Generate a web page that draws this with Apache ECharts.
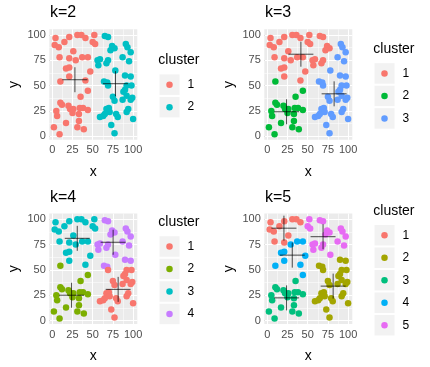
<!DOCTYPE html>
<html><head><meta charset="utf-8">
<script src="https://cdn.jsdelivr.net/npm/echarts@6/dist/echarts.min.js"></script>
<style>html,body{margin:0;padding:0;background:#fff}#c{width:430px;height:367px}</style>
</head><body><div id="c"></div>
<script>
// point coordinates (same data in every facet)
const xs = [4,21,31,36,41,15,3,8,9,21,26,
            29,37,44,17,21,21,10,41,47,44,
            52,50,53,65,69,74,77,72,56,59,57,67,69,91,93,97,87,95,78,
            64,68,90,97,69,92,98,90,88,92,87,99,97,77,75,94,92,79,81,59,63,67,70,71,65,73,77,100,
            10,12,20,22,26,25,34,38,44,5,6,33,17,33,31,39,2,9,35];
const ys = [97,98,100,100,97,93,90,88,78,77,84,
            75,78,78,67,68,59,54,55,64,45,
            100,93,91,99,98,89,87,85,75,76,70,72,75,91,88,83,78,74,65,
            54,53,60,59,50,50,50,46,44,40,36,38,36,35,39,27,24,22,19,19,20,27,28,24,22,11,3,17,
            33,31,30,27,27,23,28,28,26,25,20,22,13,15,9,7,9,2,39];
// cluster labels per k
const clusterK2 = [1,1,1,1,1,1,1,1,1,1,1,
                   1,1,1,1,1,1,1,1,1,1,
                   1,1,1,2,2,2,2,2,2,2,2,2,2,2,2,2,2,2,2,
                   2,2,2,2,2,2,2,2,2,2,2,2,2,2,2,2,2,2,2,2,2,2,2,2,2,2,2,2,
                   1,1,1,1,1,1,1,1,1,1,1,1,1,1,1,1,1,1,1];
const clusterK3 = [1,1,1,1,1,1,1,1,1,1,1,
                   1,1,1,1,1,1,2,1,1,2,
                   1,1,1,1,1,1,1,1,1,1,1,1,1,3,3,3,3,3,3,
                   3,3,3,3,3,3,3,3,3,3,3,3,3,3,3,3,3,3,3,3,3,3,3,3,3,3,3,3,
                   2,2,2,2,2,2,2,2,2,2,2,2,2,2,2,2,2,2,2];
const clusterK4 = [3,3,3,3,3,3,3,3,3,3,3,
                   3,3,3,3,3,3,2,3,3,2,
                   3,3,3,4,4,4,4,4,4,4,4,4,4,4,4,4,4,4,4,
                   4,4,4,4,1,1,1,1,1,1,1,1,1,1,1,1,1,1,1,1,1,1,1,1,1,1,1,1,
                   2,2,2,2,2,2,2,2,2,2,2,2,2,2,2,2,2,2,2];
const clusterK5 = [1,1,1,1,1,1,1,1,1,1,1,
                   4,4,4,4,4,4,4,4,4,4,
                   5,5,5,5,5,5,5,5,5,5,5,5,5,5,5,5,5,5,5,
                   2,2,2,2,2,2,2,2,2,2,2,2,2,2,2,2,2,2,2,2,2,2,2,2,2,2,2,2,
                   3,3,3,3,3,3,3,3,3,3,3,3,3,3,3,3,3,3,3];
// cluster centres (crosses)
const centersK2 = [[28.0,55.8],[78.2,51.9]];
const centersK3 = [[41.6,81.0],[23.9,24.2],[82.7,41.9]];
const centersK4 = [[81.5,30.8],[23.9,25.0],[30.9,81.2],[75.3,77.3]];
const centersK5 = [[20.6,91.2],[81.5,34.0],[23.9,22.4],[30.9,64.6],[69.0,82.8]];
const tickValues = [0,25,50,75,100];
const minorValues = [12.5,37.5,62.5,87.5];
const panelTitles = ['k=2','k=3','k=4','k=5'];
const legendTitle = 'cluster';

const palettes = [
  ['#F8766D','#00BFC4'],
  ['#F8766D','#00BA38','#619CFF'],
  ['#F8766D','#7CAE00','#00BFC4','#C77CFF'],
  ['#F8766D','#A3A500','#00BF7D','#00B0F6','#E76BF3']
];
const labelsAll = [clusterK2, clusterK3, clusterK4, clusterK5];
const centersAll = [centersK2, centersK3, centersK4, centersK5];

const FONT = 'Liberation Sans, Arial, sans-serif';
const panels = [
  {ox:0, oy:0},{ox:215, oy:0},{ox:0, oy:184.3},{ox:215, oy:184.3}
];
const GL = 49.3, GT = 29.3, GW = 88, GH = 110.5;

const grid=[], xAxis=[], yAxis=[], series=[], title=[], graphic=[];
panels.forEach((p, i) => {
  grid.push({left:GL+p.ox, top:GT+p.oy, width:GW, height:GH, show:true,
    backgroundColor:'#EBEBEB', borderWidth:0, containLabel:false});
  xAxis.push({type:'value', gridIndex:i, min:-3.7, max:105.2,
    axisLine:{show:false}, splitLine:{show:false},
    axisTick:{show:true, customValues:tickValues, length:2.75, lineStyle:{color:'#333333', width:1}},
    axisLabel:{customValues:tickValues, color:'#4D4D4D', fontSize:11, fontFamily:FONT, margin:5},
    name:'x', nameLocation:'middle', nameGap:25,
    nameTextStyle:{color:'#000', fontSize:14, fontFamily:FONT}});
  yAxis.push({type:'value', gridIndex:i, min:-3.5, max:105.6,
    axisLine:{show:false}, splitLine:{show:false},
    axisTick:{show:true, customValues:tickValues, length:2.75, lineStyle:{color:'#333333', width:1}},
    axisLabel:{customValues:tickValues, color:'#4D4D4D', fontSize:11, fontFamily:FONT, margin:3.5},
    name:'y', nameLocation:'middle', nameGap:28, nameRotate:90,
    nameTextStyle:{color:'#000', fontSize:14, fontFamily:FONT}});
  // gridlines
  const ml = [];
  minorValues.forEach(v => { ml.push({xAxis:v, lineStyle:{width:0.53}}); ml.push({yAxis:v, lineStyle:{width:0.53}}); });
  tickValues.forEach(v => { ml.push({xAxis:v, lineStyle:{width:1.07}}); ml.push({yAxis:v, lineStyle:{width:1.07}}); });
  series.push({type:'scatter', xAxisIndex:i, yAxisIndex:i, data:[], silent:true, z:1,
    markLine:{silent:true, symbol:'none', label:{show:false}, animation:false, z:1,
      lineStyle:{color:'#FFFFFF', type:'solid'}, data:ml}});
  const lab = labelsAll[i], pal = palettes[i];
  series.push({type:'scatter', xAxisIndex:i, yAxisIndex:i, z:10, symbolSize:6.5,
    data: xs.map((x,j)=>[x, ys[j], lab[j]]),
    itemStyle:{color: prm => pal[prm.data[2]-1], opacity:1}, animation:false});
  series.push({type:'custom', xAxisIndex:i, yAxisIndex:i, z:11, animation:false,
    data: centersAll[i],
    renderItem:(params, api) => {
      const c = api.coord([api.value(0), api.value(1)]);
      const st = {stroke:'rgba(0,0,0,0.7)', lineWidth:1};
      return {type:'group', children:[
        {type:'line', shape:{x1:c[0]-12.5, y1:c[1], x2:c[0]+12.5, y2:c[1]}, style:st},
        {type:'line', shape:{x1:c[0], y1:c[1]-12.5, x2:c[0], y2:c[1]+12.5}, style:st}
      ]};
    }});
  title.push({text:panelTitles[i], left:50+p.ox, top:5+p.oy, padding:0,
    textStyle:{fontSize:16, fontWeight:'normal', color:'#000', fontFamily:FONT}});
  // legend
  const n = pal.length;
  const C = 85.8 + p.oy;
  const H = 8 + 23.5 + (n-1)*22.5 + 11.25;
  const top = C - H/2;
  const tc = top + 8;
  graphic.push({type:'text', left:158.3+p.ox, top:tc-8,
    style:{text:legendTitle, fontSize:14, fontFamily:FONT, fill:'#000'}});
  for (let k=0;k<n;k++){
    const kc = tc + 23.5 + k*22.5;
    graphic.push({type:'rect', shape:{x:159+p.ox, y:kc-10.75, width:21, height:21.5},
      style:{fill:'#F2F2F2', stroke:'#FFFFFF', lineWidth:1}});
    graphic.push({type:'circle', shape:{cx:169.5+p.ox, cy:kc, r:3.25}, style:{fill:pal[k]}});
    graphic.push({type:'text', x:187.5+p.ox, y:kc,
      style:{text:String(k+1), fontSize:12, fontFamily:FONT, fill:'#000', textVerticalAlign:'middle', verticalAlign:'middle'}});
  }
});

const chart = echarts.init(document.getElementById('c'), null, {renderer:'canvas'});
chart.setOption({animation:false, backgroundColor:'#fff', title, grid, xAxis, yAxis, series, graphic});
</script></body></html>
